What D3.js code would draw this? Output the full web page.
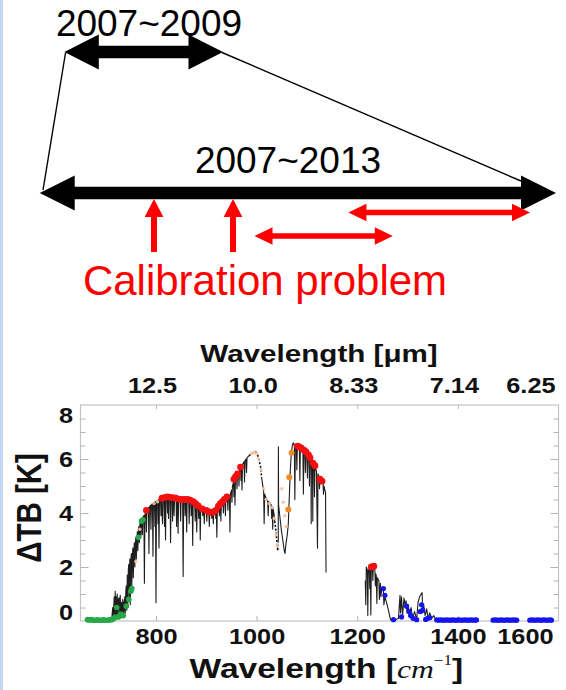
<!DOCTYPE html>
<html>
<head>
<meta charset="utf-8">
<script src="https://cdn.jsdelivr.net/npm/d3@7"></script>
<style>
  html, body { margin: 0; padding: 0; background: #fff; }
  svg { display: block; }
</style>
</head>
<body>
<svg id="chart" width="566" height="690"></svg>
<script>
// ---------------- data ----------------
const periodLabels = ["2007~2009", "2007~2013"];
const noteLabel = "Calibration problem";

const xTicks = [800, 1000, 1200, 1400, 1600];
const xTickLabels = ["800", "1000", "1200", "1400", "1600"];
const umTickLabels = ["12.5", "10.0", "8.33", "7.14", "6.25"];
const yMajorTicks = [0, 2, 4, 6, 8];
const yMinorTicks = [0.5, 1, 1.5, 2.5, 3, 3.5, 4.5, 5, 5.5, 6.5, 7, 7.5];

// ΔTB spectrum, [wavenumber cm-1, K]; solid parts
const lwSpectrum = [
  [712,0.05],[714,0.5],[715,0.05],[717,0.9],[718,0.1],[719,1.1],[720,0.2],[721,0.9],[722,0.1],[723,1.0],
  [724,0.15],[725,0.7],[726,0.85],[727,0.3],[728,0.8],[729,0.95],[730,0.1],[731,0.7],[732,0.6],[733,0.2],
  [734,0.8],[735,0.7],[736,0.15],[737,0.6],[738,0.9],[739,0.3],[740,1.1],[741,1.3],[742,0.4],[743,1.7],
  [744,0.5],[745,1.9],[746,2.1],[747,0.9],[748,2.3],[749,0.6],[750,2.2],[751,2.5],[752,1.3],[753,2.4],
  [754,2.7],[755,1.6],[756,2.6],[757,2.9],[758,2.0],[759,2.8],[760,3.1],[761,2.3],[762,3.0],[763,3.3],
  [764,2.6],[765,3.4],[766,3.5],[767,2.9],[768,3.6],[769,3.65],[770,3.1],[771,3.7],[772,3.75],[773,3.2],
  [774,3.85],[776,3.9],[777,1.4],[778,3.95],[780,4.0],[781,3.3],[782,4.08],[785,4.2],[786,2.5],[787,4.22],
  [789,4.28],[790,3.4],[791,4.3],[793,4.35],[794,2.4],[795,4.37],[797,4.4],[798,3.5],[799,4.42],[800,0.68],
  [801,4.45],[803,4.47],[804,3.6],[805,4.5],[806,2.7],[807,4.5],[809,4.52],[810,3.9],[811,4.53],[813,3.6],
  [814,4.55],[816,4.56],[817,3.5],[818,4.57],[819,3.0],[820,4.58],[822,4.59],[823,4.0],[824,4.6],[825,3.8],
  [826,4.6],[828,4.6],[829,2.9],[830,4.6],[832,4.6],[833,3.7],[834,4.6],[835,4.58],[836,3.9],[837,4.58],
  [840,4.56],[841,3.5],[842,4.56],[843,4.55],[844,3.25],[845,4.55],[848,4.52],[849,3.7],[850,4.5],[853,4.5],
  [854,1.65],[855,4.5],[857,4.5],[858,3.9],[859,4.5],[860,4.5],[861,3.3],[862,4.5],[865,4.5],[866,3.6],
  [867,4.48],[869,4.47],[870,3.9],[871,4.45],[872,4.43],[873,2.8],[874,4.42],[877,4.38],[878,3.7],[879,4.36],
  [880,4.33],[881,3.3],[882,4.3],[884,4.27],[885,3.8],[886,4.24],[887,4.22],[888,3.0],[889,4.2],[892,4.15],
  [893,3.9],[894,4.14],[895,4.12],[896,3.6],[897,4.1],[900,4.08],[901,3.7],[902,4.07],[905,4.04],[906,3.5],
  [907,4.03],[910,4.02],[911,3.8],[912,4.02],[913,4.02],[914,3.6],[915,4.03],[918,4.07],[919,3.8],[920,4.1],
  [921,3.1],[922,4.12],[925,4.22],[926,3.9],[927,4.28],[928,4.33],[929,3.7],[930,4.36],[933,4.42],[934,4.0],
  [935,4.46],[937,4.5],[938,3.9],[939,4.52],[942,4.58],[943,4.1],[944,4.6],[946,4.65],[947,3.3],[948,4.7],
  [950,4.85],[951,4.4],[952,5.0],[954,5.12],[955,4.6],[956,5.25],[957,4.3],[958,5.3],[960,5.38],[961,4.9],
  [962,5.45],[964,5.52],[965,5.0],[966,5.6],[968,5.68],[969,5.2],[970,5.75],[971,4.85],[972,5.8],[975,5.9],
  [976,5.15],[977,5.95],[979,6.0],[980,5.5],[981,6.05],[985,6.12]
];
const ozoneSpectrumA = [
  [1010,5.3],[1012,5.05],[1014,4.8],[1015,3.6],[1016,4.7],[1019,4.55],[1022,4.45],[1023,3.9],
  [1024,4.42],[1027,4.35],[1029,4.3],[1030,3.8],[1031,4.25],[1032,3.4],[1033,4.15],[1035,3.9],[1036,3.7]
];
const ozoneSpectrumB = [
  [1043,2.9],[1043.3,6.45],[1043.7,4.3],[1046,3.9],[1049,3.4],[1052,3.0],[1055,2.6],[1056.5,2.5],
  [1058,2.8],[1061,3.2],[1063,3.6],[1065,4.6],[1067,5.6],[1069,6.2],[1071,6.5],[1073,6.6],[1075,6.5],
  [1076,4.5],[1077,6.5],[1079,6.48],[1080,5.6],[1081,6.48],[1085,6.45],[1086,5.2],[1087,6.43],[1090,6.38],
  [1092,6.34],[1093,4.7],[1094,6.32],[1096,6.28],[1097,5.5],[1098,6.26],[1100,6.2],[1101,5.3],[1102,6.17],
  [1104,6.1],[1105,5.0],[1106,6.05],[1108,5.98],[1108.5,3.6],[1109,5.95],[1111,5.9],[1111.7,3.7],[1112,5.86],
  [1114,5.8],[1115,4.6],[1116,5.72],[1119,5.55],[1121,2.7],[1122,5.45],[1124,5.35],[1125,4.9],[1126,5.28],
  [1130,5.17],[1132,5.1],[1133,4.7],[1134,5.0],[1137,4.75],[1138,1.8]
];
const wvSpectrum = [
  [1216,1.5],[1217,0.6],[1218,2.0],[1220,1.9],[1221,0.2],[1222,1.85],[1224,1.95],[1225,1.2],[1226,2.0],
  [1227,0.22],[1228,2.0],[1230,2.02],[1231,1.5],[1232,2.05],[1235,1.9],[1236,1.3],[1237,1.75],[1238,1.65],
  [1239,0.65],[1240,1.6],[1243,1.5],[1244,0.8],[1246,1.4],[1247,0.9],[1249,1.25],[1252,1.1],[1253,0.6],
  [1255,0.9],[1258,0.7],[1262,0.4],[1266,0.05],[1275,0.03],[1282,0.1],[1285,0.95],[1286,0.3],[1288,0.9],
  [1290,0.2],[1293,0.85],[1295,0.6],[1297,0.75],[1299,0.3],[1301,0.6],[1304,0.25],[1307,0.5],[1310,0.1],
  [1314,0.35],[1318,0.05],[1321,0.7],[1324,0.9],[1327,1.0],[1329,1.05],[1330,0.3],[1332,0.6],[1335,0.2],
  [1338,0.45],[1341,0.1],[1344,0.3],[1348,0.1],[1352,0.2],[1356,0.05],[1365,0.03],[1380,0.02]
];
// sparse (dotted) stretches of the spectrum
const dottedA = [[985,6.12],[990,6.2],[995,6.25],[998,6.27],[1002,6.15],[1005,5.95],[1008,5.7],[1010,5.3]];
const dottedB = [[1036,3.7],[1038,3.4],[1040,3.0],[1042,2.6],[1043,2.9]];

// highlighted channels
const redChannels = [
  [781,4.1],[812,4.55],[818,4.58],[823,4.6],[828,4.58],[834,4.57],[840,4.55],[847,4.5],[852,4.5],
  [857,4.5],[863,4.5],[868,4.48],[874,4.42],[879,4.35],[884,4.26],[892,4.15],[900,4.1],[905,4.05],
  [910,4.02],[915,4.05],[919,4.1],[924,4.25],[928,4.35],[932,4.42],[936,4.5],[941,4.6],[955,5.25],
  [958,5.35],[962,5.45],[968,5.7],[1081,6.48],[1085,6.45],[1089,6.4],[1094,6.33],[1098,6.27],
  [1103,6.15],[1106,6.05],[1112,5.85],[1116,5.75],[1126,5.25],[1130,5.18],[1228,2.0],[1233,2.03]
];
const orangeChannels = [[1063,4.13],[1065,5.32],[1069.5,6.23]];
const paleChannels = [
  [990,6.2],[995,6.25],[1000,6.2],[1004,6.0],[1009,5.6],[1014,4.9],[1019,4.5],[1025,4.35],[1031,4.2],
  [1035,3.8],[1039,3.2],[1041,2.8],[1050,4.9],[1053,4.4],[1056,3.9],[1059,3.5],[796,4.35],[803,4.42],
  [760,2.2],[768,3.4]
];
const greenChannels = [
  [664,0.05],[668,0.04],[672,0.05],[676,0.03],[680,0.03],[684,0.04],[688,0.03],[692,0.03],[696,0.04],
  [700,0.03],[704,0.03],[708,0.04],[712,0.05],[716,0.08],[719,0.15],[722,0.5],[725,0.15],[728,0.2],
  [731,0.25],[735,0.2],[741,0.55],[746,0.8],[750,1.1],[752,1.2],[765,3.1],[771,3.7],[774,3.75]
];
const blueChannels = [
  [1252,1.2],[1255,0.95],[1272,0.05],[1288,0.15],[1298,0.55],[1303,0.35],[1306,0.2],[1311,0.1],
  [1318,0.05],[1325,0.35],[1328,0.6],[1330,0.4],[1336,0.06],[1340,0.1],[1344,0.12],
  [1358,0.04],[1362,0.03],[1366,0.04],[1370,0.03],[1374,0.03],[1378,0.04],[1382,0.03],[1386,0.03],
  [1390,0.04],[1394,0.03],[1398,0.03],[1402,0.04],[1406,0.03],[1410,0.03],[1414,0.04],[1418,0.03],
  [1422,0.03],[1426,0.04],[1430,0.03],[1434,0.03],[1437,0.04],
  [1470,0.03],[1474,0.04],[1478,0.03],[1482,0.03],[1486,0.04],[1490,0.03],[1494,0.03],[1498,0.04],
  [1502,0.03],[1506,0.03],[1510,0.04],[1514,0.03],[1517,0.03],
  [1543,0.03],[1547,0.04],[1551,0.03],[1555,0.03],[1559,0.04],[1563,0.03],[1567,0.03],[1571,0.04],
  [1575,0.03],[1579,0.03],[1583,0.04],[1586,0.03]
];

// ---------------- drawing ----------------
const svg = d3.select("#chart");
const SANS = "'Liberation Sans', Arial, Helvetica, sans-serif";
const SERIF = "'Liberation Serif', 'DejaVu Serif', serif";

svg.append("rect").attr("width", 566).attr("height", 690).attr("fill", "#fff");
svg.append("rect").attr("x", 0).attr("y", 0).attr("width", 3).attr("height", 690).attr("fill", "#c5d5f6");

// ---- period diagram ----
const diag = svg.append("g");

function doubleArrow(g, x1, x2, yc, shaft, headLen, headHalf, color) {
  const s = shaft / 2;
  const pts = [
    [x1, yc], [x1 + headLen, yc - headHalf], [x1 + headLen, yc - s], [x2 - headLen, yc - s],
    [x2 - headLen, yc - headHalf], [x2, yc], [x2 - headLen, yc + headHalf], [x2 - headLen, yc + s],
    [x1 + headLen, yc + s], [x1 + headLen, yc + headHalf]
  ];
  g.append("path").attr("d", d3.line()(pts) + "Z").attr("fill", color);
}
function upArrow(g, xc, tip, bottom, shaft, headLen, headHalf, color) {
  const s = shaft / 2;
  const pts = [
    [xc, tip], [xc + headHalf, tip + headLen], [xc + s, tip + headLen], [xc + s, bottom],
    [xc - s, bottom], [xc - s, tip + headLen], [xc - headHalf, tip + headLen]
  ];
  g.append("path").attr("d", d3.line()(pts) + "Z").attr("fill", color);
}

// connector lines between the two periods
diag.append("line").attr("x1", 65.5).attr("y1", 53).attr("x2", 43).attr("y2", 190)
  .attr("stroke", "#000").attr("stroke-width", 1.4);
diag.append("line").attr("x1", 222).attr("y1", 52.5).attr("x2", 521).attr("y2", 181)
  .attr("stroke", "#000").attr("stroke-width", 1.4);

diag.append("text").attr("x", 149).attr("y", 36).attr("text-anchor", "middle")
  .attr("font-family", SANS).attr("font-size", 37).attr("fill", "#000").text(periodLabels[0]);
diag.append("text").attr("x", 288).attr("y", 173).attr("text-anchor", "middle")
  .attr("font-family", SANS).attr("font-size", 37).attr("fill", "#000").text(periodLabels[1]);

doubleArrow(diag, 64.3, 223, 52, 12.6, 34.5, 17.5, "#000");
doubleArrow(diag, 39.7, 556, 193, 12.6, 35, 17.5, "#000");

const RED = "#ff0000";
upArrow(diag, 154, 199, 252, 6, 18, 9.4, RED);
upArrow(diag, 233, 199, 252, 6, 18, 9.4, RED);
doubleArrow(diag, 254.5, 392.8, 236, 5.7, 18, 8.7, RED);
doubleArrow(diag, 348.4, 530, 212.5, 5.7, 18, 8.7, RED);

diag.append("text").attr("x", 265).attr("y", 295).attr("text-anchor", "middle")
  .attr("font-family", SANS).attr("font-size", 42).attr("fill", RED).text(noteLabel);

// ---- spectrum chart ----
const x = d3.scaleLinear().domain([650, 1600]).range([80.5, 558.5]);
const y = d3.scaleLinear().domain([0, 8]).range([621, 405]);
const SX = 1.15;          // horizontal stretch of chart lettering
const TICK_FS = 22;

const plot = svg.append("g");

// frame
plot.append("rect")
  .attr("x", x.range()[0]).attr("y", y.range()[1])
  .attr("width", x.range()[1] - x.range()[0]).attr("height", y.range()[0] - y.range()[1])
  .attr("fill", "none").attr("stroke", "#c4c4c4").attr("stroke-width", 1.2);

function styleAxis(g) {
  g.select(".domain").remove();
  g.selectAll(".tick line").attr("stroke", "#b4b4b4").attr("stroke-width", 1);
  g.selectAll("text").attr("font-family", SANS).attr("font-weight", "bold")
    .attr("font-size", TICK_FS).attr("fill", "#111");
}

// bottom axis (cm-1)
const gBottom = plot.append("g").attr("transform", `translate(0,${y(0)})`)
  .call(d3.axisBottom(x).tickValues(xTicks).tickFormat((d, i) => xTickLabels[i]).tickSize(-5));
styleAxis(gBottom);
gBottom.selectAll(".tick").filter(d => d === x.domain()[1]).select("line").remove();
gBottom.selectAll("text").attr("y", 23).attr("dy", 0)
  .attr("transform", `scale(${SX},1)`)
  .each(function (d) {
    if (d === x.domain()[1]) d3.select(this).attr("text-anchor", "end").attr("x", -5.5 / SX);
  });

// top axis (micrometre)
const gTop = plot.append("g").attr("transform", `translate(0,${y(8)})`)
  .call(d3.axisTop(x).tickValues(xTicks).tickFormat((d, i) => umTickLabels[i]).tickSize(-4));
styleAxis(gTop);
gTop.selectAll(".tick").filter(d => d === x.domain()[1]).select("line").remove();
gTop.selectAll("text").attr("y", -12).attr("dy", 0)
  .attr("transform", `translate(-4,0) scale(${SX},1)`)
  .each(function (d) {
    if (d === x.domain()[1]) d3.select(this).attr("text-anchor", "end").attr("transform", `translate(-3.5,0) scale(${SX},1)`).attr("x", 0);
  });

// left axis
const gLeftMinor = plot.append("g").attr("transform", `translate(${x(650)},0)`)
  .call(d3.axisLeft(y).tickValues(yMinorTicks).tickFormat("").tickSize(-5));
styleAxis(gLeftMinor);
const gLeft = plot.append("g").attr("transform", `translate(${x(650)},0)`)
  .call(d3.axisLeft(y).tickValues(yMajorTicks).tickSize(-8).tickPadding(7.5));
styleAxis(gLeft);
gLeft.selectAll(".tick").filter(d => d === 0 || d === 8).select("line").remove();
gLeft.selectAll("text").attr("dy", "0.36em").attr("x", -7.5 / SX)
  .attr("transform", `scale(${SX},1)`)
  .attr("y", d => d === 0 ? -9 : d === 8 ? 10 : 0);

// right axis ticks
const gRightMinor = plot.append("g").attr("transform", `translate(${x(1600)},0)`)
  .call(d3.axisRight(y).tickValues(yMinorTicks).tickFormat("").tickSize(-5));
styleAxis(gRightMinor);
const gRight = plot.append("g").attr("transform", `translate(${x(1600)},0)`)
  .call(d3.axisRight(y).tickValues(yMajorTicks.filter(d => d > 0 && d < 8)).tickFormat("").tickSize(-8));
styleAxis(gRight);

// axis titles
plot.append("text")
  .attr("transform", `translate(319,362) scale(1.26,1)`)
  .attr("text-anchor", "middle").attr("font-family", SANS).attr("font-weight", "bold")
  .attr("font-size", 23.5).attr("fill", "#111").text("Wavelength [μm]");

const xt = plot.append("text")
  .attr("transform", `translate(189.5,678) scale(1.22,1)`)
  .attr("font-family", SANS).attr("font-weight", "bold").attr("font-size", 27.5).attr("fill", "#111");
xt.append("tspan").text("Wavelength [");
xt.append("tspan").attr("font-family", SERIF)
  .attr("font-style", "italic").attr("font-weight", "normal").attr("font-size", 26).text("cm");
xt.append("tspan").attr("font-family", SERIF)
  .attr("font-weight", "normal").attr("font-size", 14).attr("dy", -13).text("−1");
xt.append("tspan").attr("dy", 13).text("]");

plot.append("text")
  .attr("transform", `translate(41,508) scale(1.165,1) rotate(-90)`)
  .attr("text-anchor", "middle").attr("font-family", SANS).attr("font-weight", "bold")
  .attr("font-size", 29.5).attr("fill", "#111").text("ΔTB [K]");

// spectrum
const line = d3.line().x(d => x(d[0])).y(d => y(d[1]));
const data = plot.append("g");
[lwSpectrum, ozoneSpectrumA, ozoneSpectrumB, wvSpectrum].forEach(seg => {
  data.append("path").attr("d", line(seg)).attr("fill", "none")
    .attr("stroke", "#1e1e1e").attr("stroke-width", 1.1).attr("stroke-linejoin", "round");
});
[dottedA, dottedB].forEach(seg => {
  data.append("path").attr("d", line(seg)).attr("fill", "none")
    .attr("stroke", "#111").attr("stroke-width", 1.6).attr("stroke-dasharray", "2 1.8");
});

function dots(arr, color, r, opacity) {
  data.append("g").selectAll("circle").data(arr).join("circle")
    .attr("cx", d => x(d[0])).attr("cy", d => y(d[1])).attr("r", r)
    .attr("fill", color).attr("fill-opacity", opacity);
}
dots(paleChannels, "#f4c3a2", 1.8, 0.9);
dots(greenChannels, "#27a846", 2.8, 1);
dots(blueChannels, "#1414f0", 2.6, 1);
dots(orangeChannels, "#f08a24", 3, 1);
dots(redChannels, "#f21010", 3.4, 1);
</script>
</body>
</html>
